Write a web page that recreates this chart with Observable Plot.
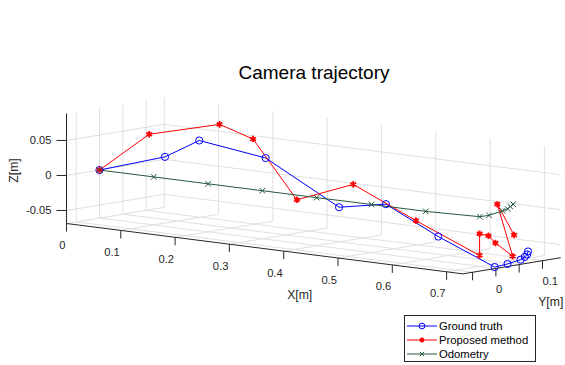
<!DOCTYPE html>
<html><head><meta charset="utf-8">
<script src="https://cdn.jsdelivr.net/npm/d3@7"></script>
<script src="https://cdn.jsdelivr.net/npm/@observablehq/plot@0.6"></script>
<style>
body{margin:0;background:#fff;}
#wrap{position:relative;width:565px;height:365px;font-family:"Liberation Sans",Arial,Helvetica,sans-serif;overflow:hidden;}
#title{position:absolute;left:314px;top:63px;transform:translateX(-50%);font-size:19px;line-height:19px;color:#000;white-space:nowrap;}
#legend{position:absolute;left:404px;top:315px;width:132px;height:47px;box-sizing:border-box;border:1px solid #262626;background:#fff;padding-top:3px;}
.row{display:flex;align-items:center;height:14px;font-size:11.3px;color:#000;white-space:nowrap;}
.row svg{flex:none;}
</style></head><body>
<div id="wrap"><div id="chart"></div><div id="title">Camera trajectory</div><div id="legend"></div></div>
<script>
// ---- data ----
const seriesNames = ["Ground truth", "Proposed method", "Odometry"];
const seriesColors = ["#0000ff", "#ff0000", "#24593b"];
const seriesSymbols = ["circle", "asterisk", "times"];

const gtX = [0, 0.1, 0.2, 0.3, 0.4, 0.5, 0.6, 0.72, 0.73, 0.73, 0.73, 0.73, 0.73];
const gtY = [0, 0.024, -0.019, 0.007, 0.048, 0.032, 0.028, 0.009, 0.025, 0.053, 0.062, 0.067, 0.069];
const gtZ = [0, 0.026, 0.064, 0.046, -0.019, -0.003, -0.039, -0.0686, -0.065, -0.062, -0.059, -0.056, -0.052];

const pmX = [0, 0.1, 0.228, 0.3, 0.424, 0.5, 0.6, 0.7, 0.7, 0.7, 0.7, 0.7, 0.7, 0.7];
const pmY = [0, -0.01, -0.008, -0.02, -0.0705, -0.038, -0.02, 0, 0, 0.019, 0.034, 0.071, 0.038, 0.074];
const pmZ = [0, 0.062, 0.0886, 0.076, 0.007, 0.033, -0.011, -0.053, -0.022, -0.027, -0.039, -0.062, 0.016, -0.032];

const odX = [0, 0.1, 0.2, 0.3, 0.4, 0.5, 0.6, 0.69, 0.691, 0.677, 0.67, 0.658, 0.646];
const odY = [0, 0, 0, 0, 0, 0.001, 0.001, 0.012, 0.031, 0.076, 0.095, 0.115, 0.135];
const odZ = [0, 0, 0, 0, 0, 0, 0, 0, 0, 0, 0, 0, 0];

const xTicks = [0, 0.1, 0.2, 0.3, 0.4, 0.5, 0.6, 0.7];
const yTicks = [-0.05, 0, 0.05, 0.1];
const yTickLabels = [0, 0.1];
const zTicks = [-0.05, 0, 0.05];
const xLim = [0, 0.73];
const yLim = [-0.0708, 0.139];
const zLim = [-0.0686, 0.0886];
const axisTitles = ["X[m]", "Y[m]", "Z[m]"];

// ---- orthographic view (pixels per data unit along each axis) ----
const view = {ex: [543, -69], ey: [466, 77], ez: [0, 700], origin: [66, 223]};
function proj(x, y, z) {
  const a = x - xLim[0], b = y - yLim[0], c = z - zLim[0];
  return [a * view.ex[0] + b * view.ey[0] + c * view.ez[0],
          a * view.ex[1] + b * view.ey[1] + c * view.ez[1]];
}
const P = (x, y, z) => { const [u, w] = proj(x, y, z); return {u, w}; };

// box corners -> scale domains
const corners = [];
for (const x of xLim) for (const y of yLim) for (const z of zLim) corners.push(P(x, y, z));
const uExt = d3.extent(corners, d => d.u);
const wExt = d3.extent(corners, d => d.w);

function seg(a, b) { return {u1: a.u, w1: a.w, u2: b.u, w2: b.w}; }

// grid on the three back planes
const grid = [];
for (const x of xTicks) {
  grid.push(seg(P(x, yLim[1], zLim[0]), P(x, yLim[1], zLim[1]))); // back wall vertical
  grid.push(seg(P(x, yLim[0], zLim[0]), P(x, yLim[1], zLim[0]))); // floor
}
for (const z of zTicks) {
  grid.push(seg(P(xLim[0], yLim[1], z), P(xLim[1], yLim[1], z))); // back wall horizontal
  grid.push(seg(P(xLim[0], yLim[0], z), P(xLim[0], yLim[1], z))); // left wall horizontal
}
for (const y of yTicks) {
  grid.push(seg(P(xLim[0], y, zLim[0]), P(xLim[0], y, zLim[1]))); // left wall vertical
  grid.push(seg(P(xLim[0], y, zLim[0]), P(xLim[1], y, zLim[0]))); // floor
}

// axis lines
const axes = [
  seg(P(xLim[0], yLim[0], zLim[0]), P(xLim[1], yLim[0], zLim[0])),
  seg(P(xLim[1], yLim[0], zLim[0]), P(xLim[1], yLim[1], zLim[0])),
  seg(P(xLim[0], yLim[0], zLim[0]), P(xLim[0], yLim[0], zLim[1]))
];

// tick marks (length in screen px == projected units)
const tickLen = 8, zTickLen = 10;
const ticks = [];
for (const x of xTicks) { const p = P(x, yLim[0], zLim[0]); ticks.push({u1: p.u, w1: p.w, u2: p.u, w2: p.w - tickLen}); }
for (const y of yTicks) { const p = P(xLim[1], y, zLim[0]); ticks.push({u1: p.u, w1: p.w, u2: p.u, w2: p.w - tickLen}); }
for (const z of zTicks) { const p = P(xLim[0], yLim[0], z); ticks.push({u1: p.u, w1: p.w, u2: p.u - zTickLen, w2: p.w}); }

function pts(name, X, Y, Z) { return X.map((x, i) => ({series: name, ...P(x, Y[i], Z[i])})); }
const data = [
  pts(seriesNames[0], gtX, gtY, gtZ),
  pts(seriesNames[1], pmX, pmY, pmZ),
  pts(seriesNames[2], odX, odY, odZ)
];

const xMid = P((xLim[0] + xLim[1]) / 2, yLim[0], zLim[0]);
const yMid = P(xLim[1], (yLim[0] + yLim[1]) / 2, zLim[0]);
const zMid = P(xLim[0], yLim[0], (zLim[0] + zLim[1]) / 2);

const textColor = "#262626";
const chart = Plot.plot({
  width: 565, height: 365, margin: 0,
  style: {fontFamily: "'Liberation Sans', Arial, Helvetica, sans-serif", fontSize: "11.2px", background: "transparent", color: textColor},
  x: {type: "linear", domain: uExt, range: [view.origin[0] + uExt[0], view.origin[0] + uExt[1]], axis: null},
  y: {type: "linear", domain: wExt, range: [view.origin[1] - wExt[0], view.origin[1] - wExt[1]], axis: null},
  marks: [
    Plot.link(grid, {x1: "u1", y1: "w1", x2: "u2", y2: "w2", stroke: "#e0e0e0", strokeWidth: 1}),
    Plot.link(axes, {x1: "u1", y1: "w1", x2: "u2", y2: "w2", stroke: "#262626", strokeWidth: 1}),
    Plot.link(ticks, {x1: "u1", y1: "w1", x2: "u2", y2: "w2", stroke: "#262626", strokeWidth: 1}),
    Plot.text(xTicks, {x: d => P(d, yLim[0], zLim[0]).u, y: d => P(d, yLim[0], zLim[0]).w, text: d => String(d), textAnchor: "end", dx: -1, dy: 22, fill: textColor}),
    Plot.text(yTickLabels, {x: d => P(xLim[1], d, zLim[0]).u, y: d => P(xLim[1], d, zLim[0]).w, text: d => String(d), textAnchor: "start", dx: 0, dy: 21, fill: textColor}),
    Plot.text(zTicks, {x: d => P(xLim[0], yLim[0], d).u, y: d => P(xLim[0], yLim[0], d).w, text: d => String(d), textAnchor: "end", dx: -15, fill: textColor}),
    Plot.text([axisTitles[0]], {x: () => xMid.u, y: () => xMid.w, text: d => d, dx: 35, dy: 46, fontSize: 12.2, fill: textColor}),
    Plot.text([axisTitles[1]], {x: () => yMid.u, y: () => yMid.w, text: d => d, dx: 39, dy: 36, fontSize: 12.2, fill: textColor}),
    Plot.text([axisTitles[2]], {x: () => zMid.u, y: () => zMid.w, text: d => d, dx: -52, dy: 2, rotate: -90, fontSize: 12.2, fill: textColor}),
    ...data.map((d, i) => Plot.line(d, {x: "u", y: "w", stroke: seriesColors[i], strokeWidth: 1})),
    Plot.dot(data[0], {x: "u", y: "w", symbol: seriesSymbols[0], stroke: seriesColors[0], fill: "none", r: 3.6, strokeWidth: 1}),
    Plot.dot(data[1], {x: "u", y: "w", symbol: seriesSymbols[1], stroke: seriesColors[1], fill: "none", r: 3.1, strokeWidth: 1.8}),
    Plot.dot(data[2], {x: "u", y: "w", symbol: seriesSymbols[2], stroke: seriesColors[2], fill: "none", r: 2.6, strokeWidth: 1})
  ]
});
document.getElementById("chart").appendChild(chart);

// legend
const symTypes = {circle: d3.symbolCircle, asterisk: d3.symbolAsterisk, times: d3.symbolTimes};
const symSizes = {circle: 26, asterisk: 18, times: 14};
const leg = d3.select("#legend");
seriesNames.forEach((name, i) => {
  const row = leg.append("div").attr("class", "row");
  const svg = row.append("svg").attr("width", 34).attr("height", 14);
  svg.append("line").attr("x1", 2).attr("x2", 32).attr("y1", 7).attr("y2", 7).attr("stroke", seriesColors[i]).attr("stroke-width", 1);
  svg.append("path").attr("transform", "translate(17,7)")
    .attr("d", d3.symbol(symTypes[seriesSymbols[i]], symSizes[seriesSymbols[i]])())
    .attr("fill", "none").attr("stroke", seriesColors[i]).attr("stroke-width", seriesSymbols[i] === "asterisk" ? 1.8 : 1);
  row.append("span").text(name);
});
</script>
</body></html>
